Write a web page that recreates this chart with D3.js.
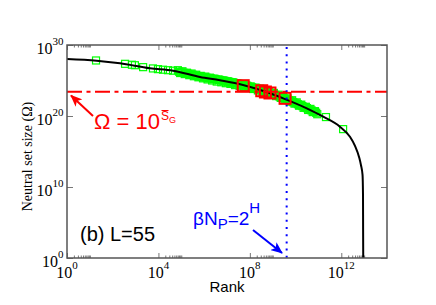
<!DOCTYPE html>
<html>
<head>
<meta charset="utf-8">
<script src="https://cdn.jsdelivr.net/npm/d3@7"></script>
<style>
  body { margin: 0; background: #fff; }
  svg { display: block; }
</style>
</head>
<body>
<div id="chart"></div>
<script>
// --> DATA (exponents, log10)
var curveLogRank  = [0, 1.3, 2.32, 3.63, 4.64, 5.82, 6.69, 7.7, 8.66, 9.46, 10.49, 11.21, 11.94, 12.38, 12.6, 12.78, 12.86, 12.93, 12.95, 12.955, 12.96];
var curveLogOmega = [28.03, 27.79, 27.42, 26.72, 26.38, 25.5, 25.03, 24.37, 23.45, 22.49, 21.08, 19.9, 18.49, 17.08, 15.8, 14.2, 13.1, 11.7, 8.9, 4.0, 0];

var greenLogRank = [1.27, 2.54, 2.84, 2.97, 3.33, 3.76, 3.98, 4.2, 4.42, 4.64,
  4.85, 4.95, 5.05, 5.15, 5.25, 5.35, 5.45, 5.55, 5.65, 5.75, 5.85, 5.95, 6.05, 6.15, 6.25, 6.35,
  6.45, 6.55, 6.65, 6.75, 6.85, 6.95, 7.05, 7.15, 7.25, 7.35, 7.45, 7.55, 7.65, 7.75, 7.85, 7.95,
  8.05, 8.15, 8.25, 8.35, 8.45, 8.55, 8.65, 8.75, 8.85, 8.95, 9.05, 9.15, 9.25, 9.35, 9.45, 9.55,
  9.65, 9.75, 9.85, 9.95, 10.05, 10.15, 10.25, 10.35, 10.45, 10.55, 10.65, 10.75, 10.85, 10.95,
  11.33, 12.08,
  4.9, 5.0, 5.1, 5.2, 5.3, 5.4, 5.5, 5.6, 5.7, 5.8, 5.9, 6.0, 6.1, 6.2, 6.3, 6.4, 6.5, 6.6, 6.7, 6.8,
  6.9, 7.0, 7.1, 7.2, 7.3, 7.4, 7.5, 7.6, 7.7, 7.8, 7.9, 8.0, 8.1, 8.2, 8.3, 8.4, 8.5, 8.6, 8.7, 8.8,
  8.9, 9.0, 9.1, 9.2, 9.3, 9.4, 9.5, 9.6, 9.7, 9.8, 9.9, 10.0, 10.1, 10.2, 10.3, 10.4, 10.5, 10.6,
  10.7, 10.8, 10.9];
var greenLogOmega = [27.82, 27.35, 27.22, 27.15, 26.88, 26.7, 26.6, 26.52, 26.45, 26.38,
  26.45, 26.05, 26.3, 25.9, 26.1, 25.75, 25.98, 25.6, 25.82, 25.45, 25.65, 25.3, 25.55, 25.15, 25.4, 25.0,
  25.25, 24.85, 25.12, 24.75, 25.0, 24.62, 24.88, 24.52, 24.75, 24.35, 24.6, 24.25, 24.45, 24.1, 24.3, 23.95,
  24.15, 23.8, 24.0, 23.6, 23.85, 23.4, 23.65, 23.2, 23.45, 23.0, 23.25, 22.8, 23.0, 22.55, 22.72, 22.3,
  22.48, 22.05, 22.22, 21.75, 21.92, 21.45, 21.6, 21.15, 21.3, 20.85, 21.0, 20.55, 20.68, 20.25,
  19.85, 18.15,
  26.24, 26.16, 26.09, 26.01, 25.94, 25.86, 25.79, 25.71, 25.64, 25.56, 25.51, 25.45, 25.4, 25.34, 25.29, 25.24, 25.18, 25.13, 25.07, 25.01,
  24.94, 24.88, 24.81, 24.75, 24.68, 24.62, 24.55, 24.49, 24.42, 24.32, 24.23, 24.13, 24.04, 23.94, 23.85, 23.75, 23.65, 23.56, 23.45, 23.33,
  23.21, 23.09, 22.97, 22.85, 22.73, 22.61, 22.49, 22.35, 22.21, 22.07, 21.94, 21.8, 21.66, 21.53, 21.39, 21.25, 21.11, 20.95,
  20.79, 20.62, 20.46];

var redLogRank  = [7.71, 8.52, 8.68, 8.88, 9.54];
var redLogOmega = [24.27, 23.56, 23.38, 23.24, 22.49];

var meanLogOmega = 23.42;   // Omega = 10^{S_G}
var cutoffLogRank = 9.61;   // beta N_P = 2^H

var xMajorTicks = [1, 1e4, 1e8, 1e12];
var xMinorMult = [2, 3, 4, 5, 6, 7, 8, 9, 10];
var xTickExp = ["0", "4", "8", "12"];
var yMajorTicks = [1, 1e10, 1e20, 1e30];
var yTickExp = ["0", "10", "20", "30"];

// --> SVG
var width = 436, height = 305;
var plot = { left: 67, right: 387, top: 45, bottom: 258 };

var svg = d3.select("#chart").append("svg")
    .attr("width", width)
    .attr("height", height);

var x = d3.scaleLog().domain([1, 1e14]).range([plot.left, plot.right]);
var y = d3.scaleLog().domain([1, 1e30]).range([plot.bottom, plot.top]);

function p10(v) { return Math.pow(10, v); }

var defs = svg.append("defs");
function addArrow(id, color) {
    defs.append("marker")
        .attr("id", id)
        .attr("markerUnits", "userSpaceOnUse")
        .attr("viewBox", "0 0 12 10")
        .attr("refX", 11)
        .attr("refY", 5)
        .attr("markerWidth", 12)
        .attr("markerHeight", 10)
        .attr("orient", "auto")
        .append("path")
        .attr("d", "M0,0 L12,5 L0,10 L3,5 z")
        .attr("fill", color);
}
addArrow("arrRed", "#ff0000");
addArrow("arrBlue", "#0000ff");

// minor ticks
var xMinor = [];
xMajorTicks.forEach(function(t) {
    xMinorMult.forEach(function(k) { xMinor.push(t * k); });
});

var axisColor = "#555";
function styleAxis(g) {
    g.select(".domain").remove();
    g.selectAll("line").attr("stroke", "#777").attr("stroke-width", 1);
}

svg.append("g").attr("transform", "translate(0," + plot.bottom + ")")
    .call(d3.axisBottom(x).tickValues(xMajorTicks).tickSize(-5).tickFormat(""))
    .call(styleAxis);
svg.append("g").attr("transform", "translate(0," + plot.bottom + ")")
    .call(d3.axisBottom(x).tickValues(xMinor).tickSize(-2.5).tickFormat(""))
    .call(styleAxis);
svg.append("g").attr("transform", "translate(0," + plot.top + ")")
    .call(d3.axisTop(x).tickValues(xMajorTicks).tickSize(-5).tickFormat(""))
    .call(styleAxis);
svg.append("g").attr("transform", "translate(0," + plot.top + ")")
    .call(d3.axisTop(x).tickValues(xMinor).tickSize(-2.5).tickFormat(""))
    .call(styleAxis);
svg.append("g").attr("transform", "translate(" + plot.left + ",0)")
    .call(d3.axisLeft(y).tickValues(yMajorTicks).tickSize(-6).tickFormat(""))
    .call(styleAxis);
svg.append("g").attr("transform", "translate(" + plot.right + ",0)")
    .call(d3.axisRight(y).tickValues(yMajorTicks).tickSize(-6).tickFormat(""))
    .call(styleAxis);

// tick labels
var serif = "'Liberation Serif', 'Times New Roman', serif";
var sans = "'Liberation Sans', Arial, Helvetica, sans-serif";

var xl = svg.append("g").selectAll("text")
    .data(xMajorTicks)
    .enter().append("text")
    .attr("x", function(d) { return x(d); })
    .attr("y", 278)
    .attr("text-anchor", "middle")
    .attr("font-family", serif)
    .attr("font-size", 16)
    .attr("fill", "#000");
xl.append("tspan").text("10");
xl.append("tspan").attr("dy", -9).attr("font-size", 11).text(function(d, i) { return xTickExp[i]; });

var yl = svg.append("g").selectAll("text")
    .data(yMajorTicks)
    .enter().append("text")
    .attr("x", 63.5)
    .attr("y", function(d) { return y(d) + 8.5; })
    .attr("text-anchor", "end")
    .attr("font-family", serif)
    .attr("font-size", 16)
    .attr("fill", "#000");
yl.append("tspan").text("10");
yl.append("tspan").attr("dy", -8.5).attr("font-size", 11).text(function(d, i) { return yTickExp[i]; });

// axis titles
svg.append("text")
    .attr("x", (plot.left + plot.right) / 2)
    .attr("y", 292)
    .attr("text-anchor", "middle")
    .attr("font-family", sans)
    .attr("font-size", 15)
    .text("Rank");

svg.append("text")
    .attr("transform", "translate(31.5,156.5) rotate(-90)")
    .attr("text-anchor", "middle")
    .attr("font-family", serif)
    .attr("font-size", 14)
    .text("Neutral set size (\u03A9)");

// clip
defs.append("clipPath").attr("id", "clip")
    .append("rect")
    .attr("x", plot.left).attr("y", plot.top)
    .attr("width", plot.right - plot.left).attr("height", plot.bottom - plot.top);

var body = svg.append("g").attr("clip-path", "url(#clip)");

// green markers
body.append("g").selectAll("rect")
    .data(greenLogRank)
    .enter().append("rect")
    .attr("x", function(d) { return x(p10(d)) - 3.5; })
    .attr("y", function(d, i) { return y(p10(greenLogOmega[i])) - 3.5; })
    .attr("width", 7)
    .attr("height", 7)
    .attr("fill", "none")
    .attr("stroke", "#00ff00")
    .attr("stroke-width", 1.2);

// main curve
var curveData = curveLogRank.map(function(r, i) { return [p10(r), p10(curveLogOmega[i])]; });
var line = d3.line()
    .x(function(d) { return x(d[0]); })
    .y(function(d) { return y(d[1]); })
    .curve(d3.curveMonotoneX);
body.append("path")
    .datum(curveData)
    .attr("d", line)
    .attr("fill", "none")
    .attr("stroke", "#000")
    .attr("stroke-width", 2);

// reference lines
body.append("line")
    .attr("x1", plot.left).attr("x2", plot.right)
    .attr("y1", y(p10(meanLogOmega))).attr("y2", y(p10(meanLogOmega)))
    .attr("stroke", "#ff0000")
    .attr("stroke-width", 2)
    .attr("stroke-dasharray", "15,4.5,4,4.5");

body.append("line")
    .attr("x1", x(p10(cutoffLogRank))).attr("x2", x(p10(cutoffLogRank)))
    .attr("y1", plot.top + 2).attr("y2", plot.bottom)
    .attr("stroke", "#0000ff")
    .attr("stroke-width", 2)
    .attr("stroke-dasharray", "2,5.2");

// red squares
body.append("g").selectAll("rect")
    .data(redLogRank)
    .enter().append("rect")
    .attr("x", function(d) { return x(p10(d)) - 5.5; })
    .attr("y", function(d, i) { return y(p10(redLogOmega[i])) - 5.5; })
    .attr("width", 11)
    .attr("height", 11)
    .attr("fill", "none")
    .attr("stroke", "#ff0000")
    .attr("stroke-width", 2);

// frame
svg.append("rect")
    .attr("x", plot.left).attr("y", plot.top)
    .attr("width", plot.right - plot.left).attr("height", plot.bottom - plot.top)
    .attr("fill", "none")
    .attr("stroke", axisColor)
    .attr("stroke-width", 1.5);

// annotations
svg.append("text")
    .attr("x", 80).attr("y", 240.5)
    .attr("font-family", sans)
    .attr("font-size", 20)
    .attr("fill", "#000")
    .text("(b) L=55");

var omegaText = svg.append("text")
    .attr("x", 94).attr("y", 128.5)
    .attr("font-family", sans)
    .attr("font-size", 22)
    .attr("fill", "#ff0000");
omegaText.append("tspan").text("\u03A9 = 10");
omegaText.append("tspan").attr("dx", 1).attr("dy", -8.5).attr("font-size", 12).text("S");
omegaText.append("tspan").attr("dy", 3).attr("font-size", 9).text("G");
var sBox = omegaText.node().getExtentOfChar(6);
svg.append("line")
    .attr("x1", sBox.x + 0.5).attr("x2", sBox.x + sBox.width - 0.5)
    .attr("y1", sBox.y + 1.5).attr("y2", sBox.y + 1.5)
    .attr("stroke", "#ff0000").attr("stroke-width", 1);

svg.append("line")
    .attr("x1", 93).attr("y1", 116)
    .attr("x2", 71).attr("y2", 95.5)
    .attr("stroke", "#ff0000").attr("stroke-width", 2)
    .attr("marker-end", "url(#arrRed)");

var betaText = svg.append("text")
    .attr("x", 193).attr("y", 225)
    .attr("font-family", sans)
    .attr("font-size", 19)
    .attr("fill", "#0000ff");
betaText.append("tspan").text("\u03B2N");
betaText.append("tspan").attr("dy", 4).attr("font-size", 15).text("P");
betaText.append("tspan").attr("dy", -4).text("=2");
betaText.append("tspan").attr("dy", -12).attr("font-size", 15).text("H");

svg.append("line")
    .attr("x1", 253).attr("y1", 230)
    .attr("x2", 282).attr("y2", 253)
    .attr("stroke", "#0000ff").attr("stroke-width", 2)
    .attr("marker-end", "url(#arrBlue)");
</script>
</body>
</html>
